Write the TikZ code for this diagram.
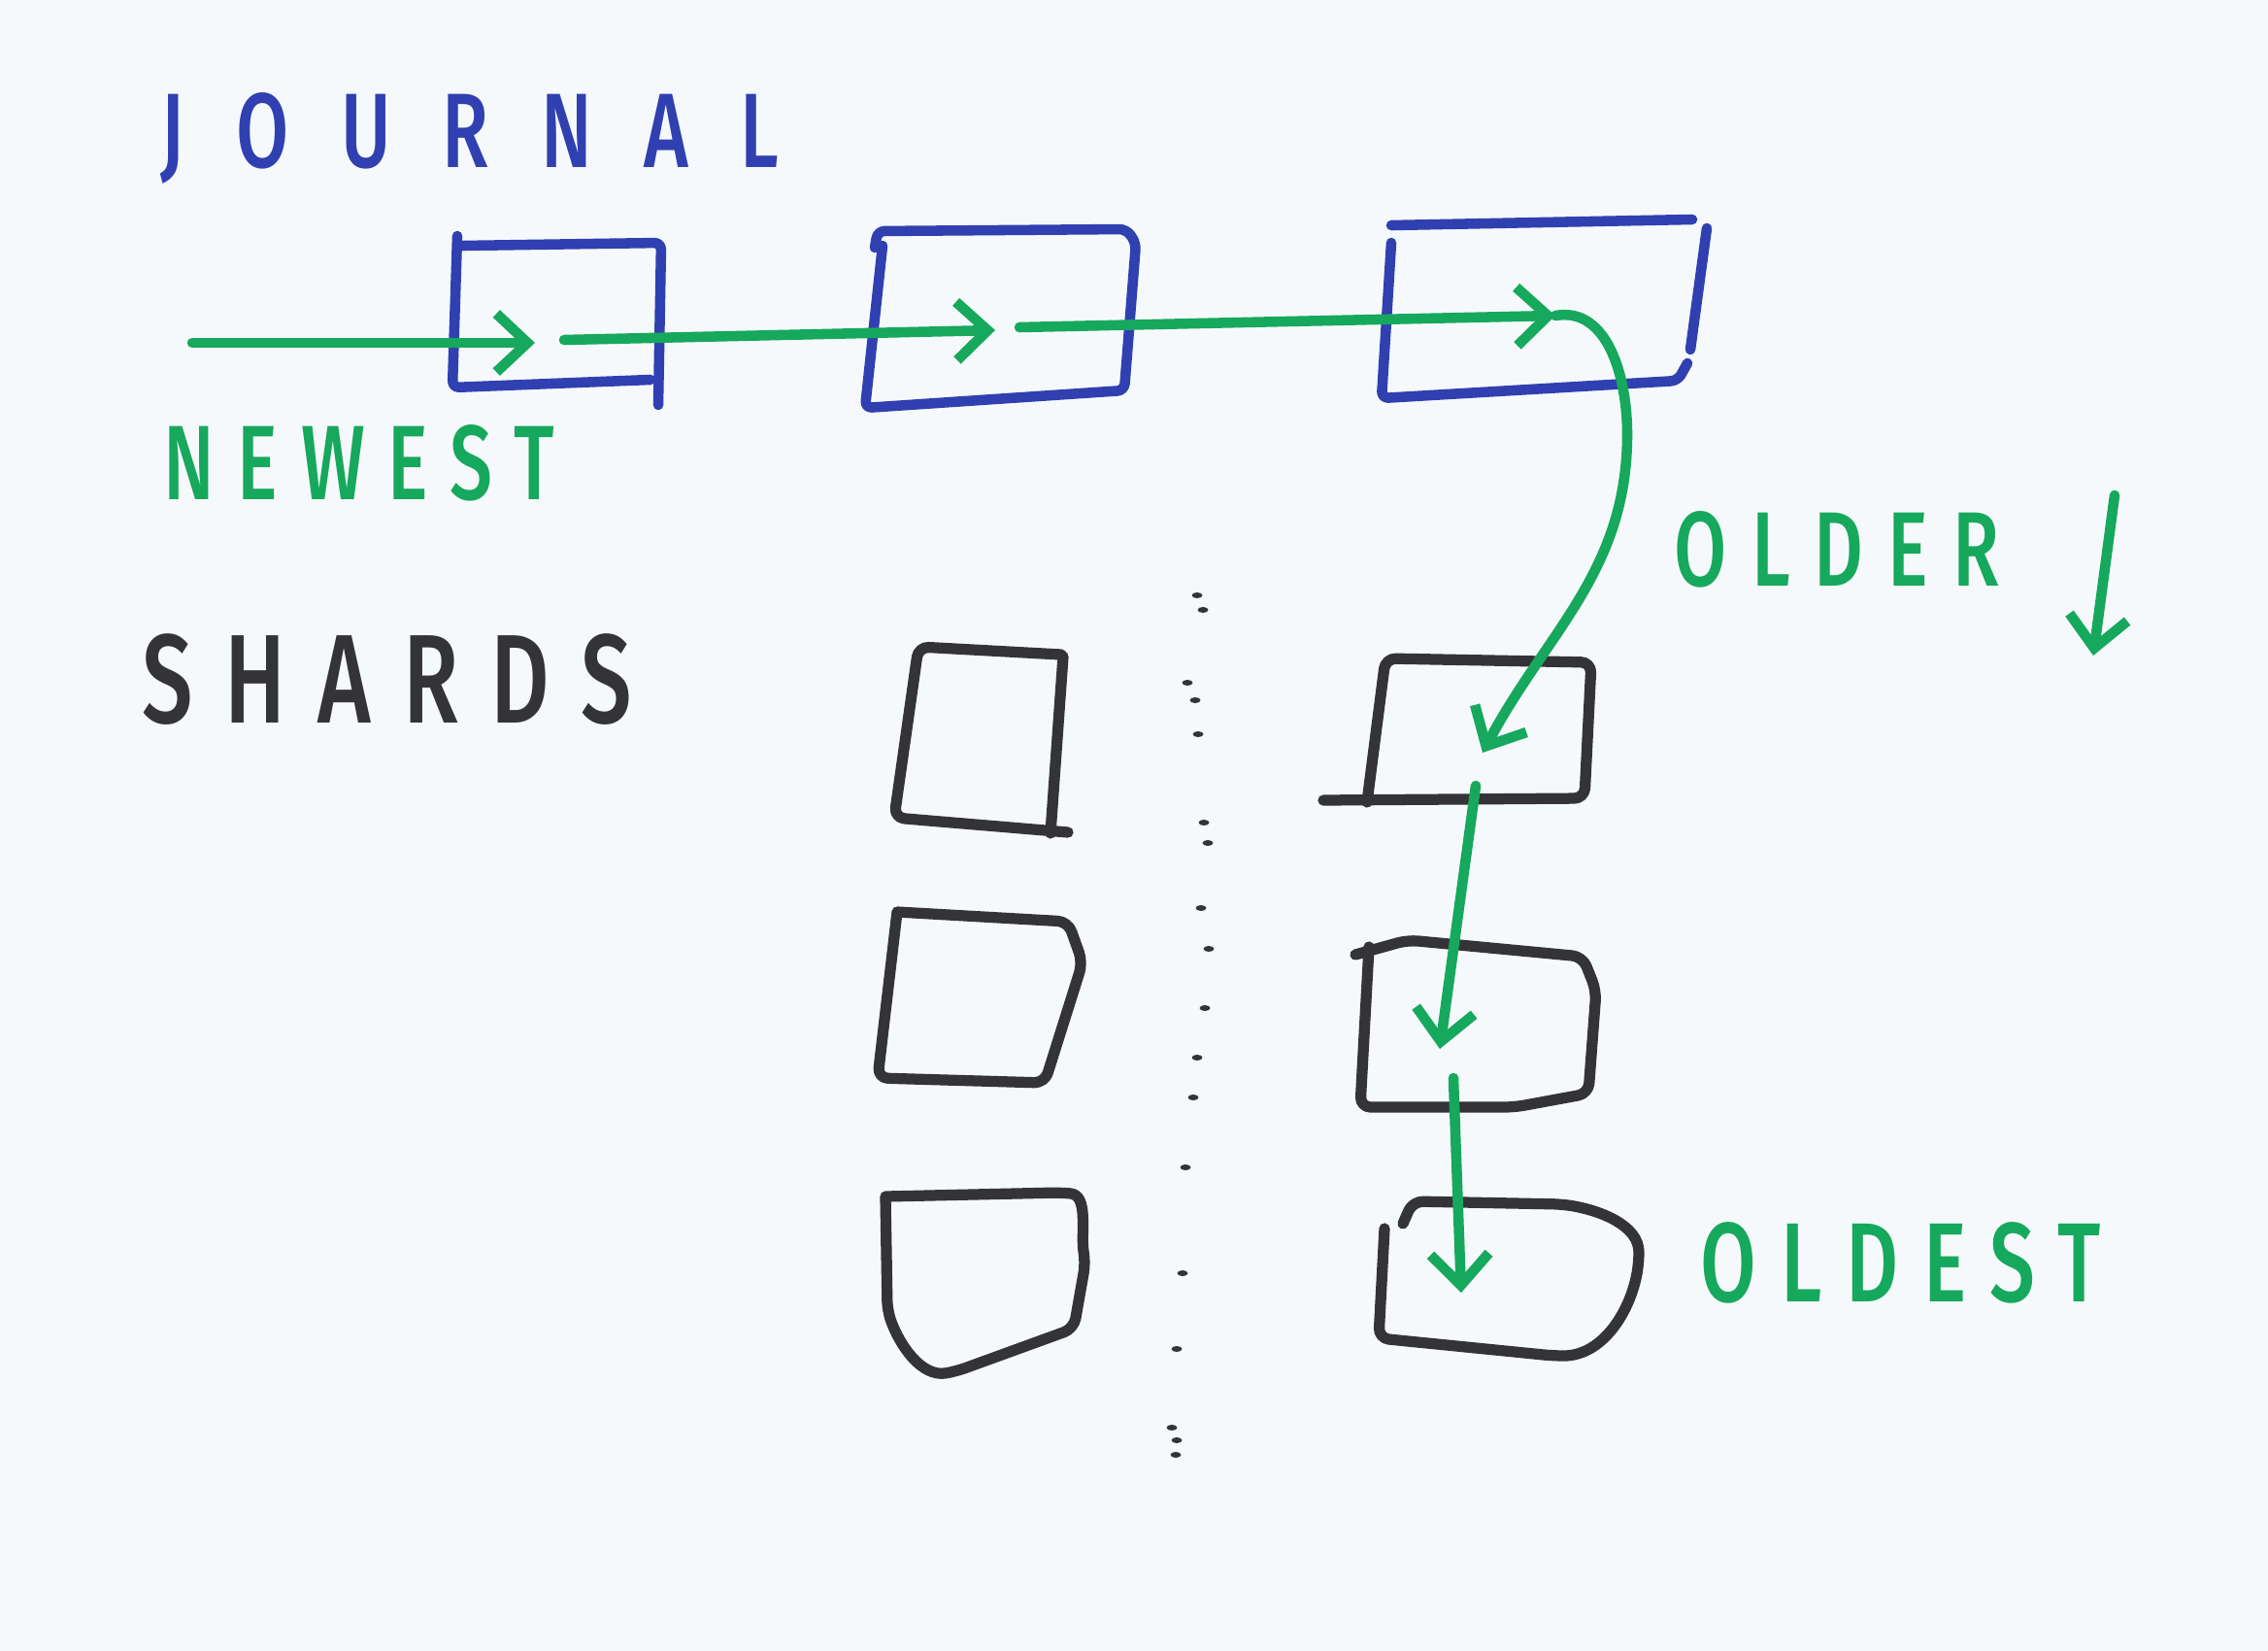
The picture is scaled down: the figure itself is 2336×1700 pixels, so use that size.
\documentclass[tikz,border=0pt]{standalone}
\usepackage{fontspec}
\usepackage{graphicx}
\usetikzlibrary{arrows.meta}

\newfontfamily\hand{Fira Sans Medium}
\newcommand{\scrawl}[2]{{\addfontfeature{LetterSpace=#1}\scalebox{0.72}[1]{#2}}}

\definecolor{paper}{RGB}{246,249,252}
\definecolor{penblue}{RGB}{48,64,176}
\definecolor{pengreen}{RGB}{22,168,92}
\definecolor{penblack}{RGB}{52,52,56}

\begin{document}
\begin{tikzpicture}[x=0.01cm, y=-0.01cm, >={Straight Barb[length=0.32cm,width=0.6cm]},
    box/.style={inner sep=0pt},
    jline/.style={draw=penblue, line width=3pt, line cap=round, line join=round, rounded corners=2pt},
    sline/.style={draw=penblack, line width=3.2pt, line cap=round, line join=round, rounded corners=3pt},
    flow/.style={draw=pengreen, line width=3pt, ->, line cap=round},
    tag/.style={anchor=west, inner sep=0pt}]
        \fill[paper] (0,0) rectangle (2336,1700);

        % journal
        \node[tag, text=penblue, font=\hand\fontsize{31pt}{31pt}\selectfont] (journal) at (165,142) {\scrawl{68}{JOURNAL}};
        \node[box, minimum width=2.15cm, minimum height=1.71cm] (j1) at (574,329) {};
        \node[box, minimum width=2.76cm, minimum height=1.88cm] (j2) at (1032,328) {};
        \node[box, minimum width=3.32cm, minimum height=1.88cm] (j3) at (1589,320) {};
        \draw[jline] (471,243) -- (466,399) -- (670,391);
        \draw[jline] (477,253) -- (681,250) -- (678,417);
        \draw[jline] (909,253) -- (891,420) -- (1158,402) -- (1170,250) -- (1160,236) -- (904,238) -- (901,255);
        \draw[jline] (1743,226) -- (1433,232);
        \draw[jline] (1433,250) -- (1423,410) -- (1728,392) -- (1738,374);
        \draw[jline] (1758,235) -- (1741,360);
        \node[tag, text=pengreen, font=\hand\fontsize{31pt}{31pt}\selectfont] (newest) at (168,477) {\scrawl{30}{NEWEST}};

        % shards
        \node[tag, text=penblack, font=\hand\fontsize{37pt}{37pt}\selectfont] (shards) at (146,700) {\scrawl{35}{SHARDS}};
        \node[box, minimum width=1.77cm, minimum height=1.91cm] (l1) at (1010,761) {};
        \node[box, minimum width=2.14cm, minimum height=1.84cm] (l2) at (1008,1026) {};
        \node[box, minimum width=2.12cm, minimum height=1.93cm] (l3) at (1012,1321) {};
        \node[box, minimum width=2.39cm, minimum height=1.57cm] (r1) at (1520,752) {};
        \node[box, minimum width=2.53cm, minimum height=1.86cm] (r2) at (1523,1054) {};
        \node[box, minimum width=2.68cm, minimum height=1.67cm] (r3) at (1554,1313) {};
        \draw[sline] (1093,674) -- (946,666) -- (921,842) -- (1100,857);
        \draw[sline] (1095,676) -- (1082,858);
        \draw[sline] (924,939) -- (1100,949) -- (1115,991) -- (1076,1115) -- (904,1110) -- (924,939);
        \draw[sline] (912,1232) -- (1092,1228) to[out=-5, in=100] (1118,1300) -- (1106,1368)
            -- (985,1412) to[out=190, in=-70] (914,1350) -- (912,1232);
        \draw[sline] (1408,826) -- (1427,678) -- (1639,682) -- (1632,822) -- (1363,824);
        \draw[sline] (1410,975) -- (1401,1140) -- (1560,1140) -- (1636,1126) -- (1644,1020)
            -- (1630,985) -- (1450,968) -- (1396,983);
        \draw[sline] (1426,1265) -- (1420,1378) -- (1600,1396) to[out=0, in=-100] (1688,1300)
            to[out=90, in=-10] (1610,1240) -- (1455,1237) -- (1445,1260);
        \node[tag, text=pengreen, font=\hand\fontsize{31pt}{31pt}\selectfont] (older) at (1724,566) {\scrawl{32}{OLDER}};
        \node[tag, text=pengreen, font=\hand\fontsize{33pt}{33pt}\selectfont] (oldest) at (1751,1300) {\scrawl{30}{OLDEST}};

        % dotted divider
        \foreach \x/\y in {1233/613, 1239/628, 1223/703, 1231/721, 1234/756, 1240/847, 1244/868,
                1237/935, 1245/977, 1241/1038, 1233/1089, 1229/1130, 1221/1202, 1218/1311,
                1212/1389, 1207/1470, 1212/1483, 1211/1498}
            \fill[penblack] (\x,\y) ellipse [x radius=0.055cm, y radius=0.03cm];

        % green path newest -> oldest
        \coordinate (in) at (198,353);
        \coordinate (t1) at (551,353);
        \coordinate (s1) at (581,350);
        \coordinate (t2) at (1025,340);
        \coordinate (s2) at (1050,337);
        \coordinate (t3) at (1602,325);
        \coordinate (bend) at (1676,447);
        \draw[flow] (in) -- (t1);
        \draw[flow] (s1) -- (t2);
        \draw[flow] (s2) -- (t3);
        \draw[flow] (t3) to[out=10, in=90] (bend) to[out=-90, in=62] ([xshift=0.07cm, yshift=-0.23cm]r1.center);
        \draw[flow] ([yshift=-0.57cm]r1.center) -- ([xshift=-0.4cm, yshift=-0.26cm]r2.center);
        \draw[flow] ([xshift=-0.26cm, yshift=-0.56cm]r2.center) -- ([xshift=-0.49cm, yshift=-0.18cm]r3.center);

        \coordinate (down a) at (2178,510);
        \coordinate (down b) at (2156,675);
        \draw[flow] (down a) -- (down b);
    \end{tikzpicture}
\end{document}
